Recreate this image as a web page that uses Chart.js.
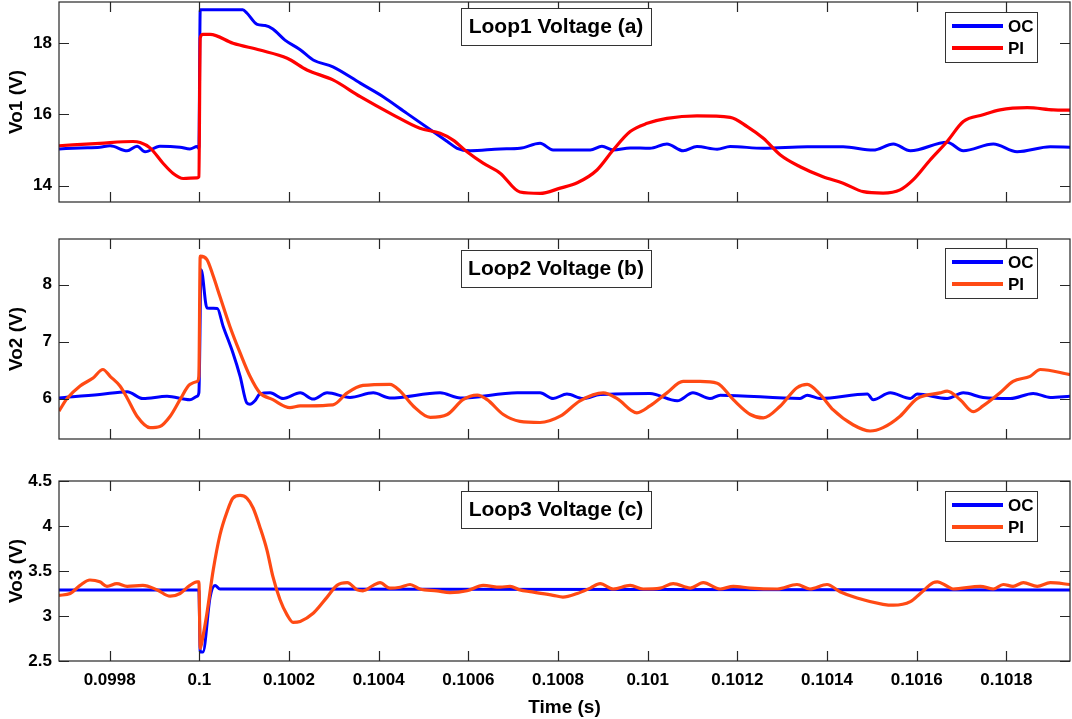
<!DOCTYPE html>
<html>
<head>
<meta charset="utf-8">
<script src="https://cdn.jsdelivr.net/npm/chart.js@4.4.1/dist/chart.umd.min.js"></script>
<style>
  body { margin: 0; background: #fff; width: 1072px; height: 719px; overflow: hidden; position: relative; }
  .panel { position: absolute; left: 0; width: 1072px; }
</style>
</head>
<body>
<div class="panel" style="top:0;height:215px"><canvas id="loop1" width="1072" height="215"></canvas></div>
<div class="panel" style="top:229px;height:221px"><canvas id="loop2" width="1072" height="221"></canvas></div>
<div class="panel" style="top:465px;height:254px"><canvas id="loop3" width="1072" height="254"></canvas></div>
<script>
// time axis (s)
const timeMin = 0.099687;
const timeMax = 0.101942;
const timeTicks = [0.0998, 0.1, 0.1002, 0.1004, 0.1006, 0.1008, 0.101, 0.1012, 0.1014, 0.1016, 0.1018];
const timeTickLabels = ["0.0998", "0.1", "0.1002", "0.1004", "0.1006", "0.1008", "0.101", "0.1012", "0.1014", "0.1016", "0.1018"];

// Loop1 voltage
const vo1Ticks = [14, 16, 18];
const vo1OcTime = [0.099687, 0.099734, 0.099778, 0.099801, 0.099839, 0.099861, 0.099879, 0.099912, 0.099957, 0.099979, 0.099995, 0.099999,
  0.100002, 0.100097, 0.100106, 0.100129, 0.100147, 0.100164, 0.100191, 0.100225, 0.100254, 0.100298, 0.100359, 0.10041, 0.100463,
  0.100521, 0.100553, 0.100575, 0.100604, 0.100671, 0.100715, 0.10076, 0.100789, 0.100872, 0.100898, 0.100923, 0.100961, 0.101005,
  0.101043, 0.101079, 0.10111, 0.101155, 0.101184, 0.101258, 0.101356, 0.101436, 0.101503, 0.101548, 0.101586, 0.101668, 0.101704,
  0.101771, 0.101824, 0.101898, 0.101942];
const vo1OcValues = [15.03, 15.06, 15.08, 15.12, 14.98, 15.11, 14.95, 15.11, 15.08, 15.03, 15.1, 15.05,
  18.94, 18.94, 18.85, 18.53, 18.5, 18.4, 18.09, 17.82, 17.53, 17.34, 16.88, 16.5, 16.03,
  15.52, 15.24, 15.05, 14.98, 15.03, 15.05, 15.19, 15.0, 15.0, 15.11, 15.0, 15.06, 15.05,
  15.17, 14.98, 15.1, 15.02, 15.1, 15.05, 15.09, 15.09, 15.0, 15.17, 14.98, 15.22, 14.98,
  15.17, 14.95, 15.09, 15.08];
const vo1PiTime = [0.099687, 0.099778, 0.099852, 0.099868, 0.09989, 0.099919, 0.099941, 0.099964, 0.099995, 0.099999,
  0.100002, 0.100008, 0.100024, 0.100075, 0.100135, 0.100196, 0.10024, 0.100298, 0.100359, 0.100432, 0.100492, 0.100537,
  0.100566, 0.100597, 0.100633, 0.100671, 0.100715, 0.10076, 0.100805, 0.100843, 0.100887, 0.100923, 0.100961, 0.100999,
  0.101043, 0.10111, 0.101184, 0.101222, 0.101258, 0.101296, 0.10134, 0.101391, 0.101436, 0.101481, 0.101525, 0.101563,
  0.101592, 0.10163, 0.101668, 0.101704, 0.101748, 0.101786, 0.101847, 0.101905, 0.101942];
const vo1PiValues = [15.12, 15.19, 15.24, 15.21, 15.06, 14.63, 14.35, 14.2, 14.22, 14.25,
  18.15, 18.25, 18.25, 18.0, 17.81, 17.58, 17.25, 16.97, 16.5, 15.99, 15.61, 15.47,
  15.28, 14.95, 14.63, 14.35, 13.82, 13.78, 13.93, 14.08, 14.44, 15.0, 15.52, 15.75,
  15.89, 15.96, 15.92, 15.66, 15.33, 14.86, 14.53, 14.25, 14.07, 13.83, 13.79, 13.88,
  14.16, 14.72, 15.24, 15.8, 15.99, 16.13, 16.19, 16.13, 16.12];

// Loop2 voltage
const vo2Ticks = [6, 7, 8];
const vo2OcTime = [0.099687, 0.099778, 0.099839, 0.099874, 0.099928, 0.099979, 0.099995, 0.099999,
  0.100004, 0.100017, 0.10004, 0.100053, 0.100075, 0.100091, 0.100106, 0.100113, 0.100124, 0.100135, 0.100158, 0.100187,
  0.100225, 0.100254, 0.100285, 0.100336, 0.100388, 0.100425, 0.100537, 0.100582, 0.100709, 0.10076, 0.100789, 0.10082,
  0.100856, 0.100894, 0.101005, 0.101066, 0.101101, 0.101139, 0.101162, 0.10134, 0.101356, 0.101385, 0.10149, 0.101503,
  0.101541, 0.101586, 0.101601, 0.101668, 0.101704, 0.101748, 0.101809, 0.10186, 0.101898, 0.101942];
const vo2OcValues = [6.01, 6.07, 6.12, 6.0, 6.04, 5.98, 6.04, 6.1,
  8.26, 7.59, 7.58, 7.27, 6.8, 6.39, 5.92, 5.9, 5.96, 6.08, 6.1, 6.0,
  6.1, 5.99, 6.1, 6.02, 6.1, 6.01, 6.1, 6.01, 6.1, 6.1, 6.0, 6.08,
  6.0, 6.07, 6.09, 5.96, 6.1, 6.0, 6.06, 6.0, 6.06, 6.0, 6.08, 5.98,
  6.1, 6.0, 6.08, 6.0, 6.1, 6.02, 6.0, 6.09, 6.02, 6.04];
const vo2PiTime = [0.099687, 0.099705, 0.099734, 0.099763, 0.099785, 0.099801, 0.099823, 0.099839, 0.099861, 0.09989,
  0.099912, 0.099935, 0.099957, 0.099979, 0.099995, 0.099999, 0.100002, 0.100017, 0.100031, 0.100046, 0.100068, 0.100091,
  0.100113, 0.100135, 0.100164, 0.100202, 0.100225, 0.100298, 0.10033, 0.100365, 0.100425, 0.100448, 0.100477, 0.100515,
  0.100553, 0.100588, 0.10062, 0.100642, 0.100678, 0.100715, 0.10076, 0.100805, 0.100849, 0.100901, 0.100932, 0.100976,
  0.101005, 0.101043, 0.101079, 0.101117, 0.101155, 0.101191, 0.101229, 0.101258, 0.101296, 0.101333, 0.101356, 0.101385,
  0.101414, 0.101458, 0.101496, 0.101525, 0.101563, 0.101601, 0.101652, 0.101668, 0.101697, 0.101726, 0.101748, 0.101786,
  0.101815, 0.101853, 0.101876, 0.101942];
const vo2PiValues = [5.78, 6.0, 6.22, 6.36, 6.51, 6.39, 6.22, 6.01, 5.69, 5.49,
  5.51, 5.69, 5.98, 6.25, 6.3, 6.39, 8.5, 8.44, 8.15, 7.79, 7.27, 6.8,
  6.39, 6.1, 5.98, 5.84, 5.87, 5.89, 6.1, 6.23, 6.25, 6.13, 5.87, 5.67,
  5.72, 5.98, 6.06, 5.98, 5.72, 5.6, 5.58, 5.69, 5.96, 6.1, 6.0, 5.75,
  5.87, 6.1, 6.3, 6.3, 6.27, 5.98, 5.72, 5.66, 5.87, 6.19, 6.25, 6.07,
  5.8, 5.54, 5.43, 5.49, 5.69, 6.0, 6.1, 6.13, 5.98, 5.77, 5.87, 6.1,
  6.3, 6.39, 6.51, 6.42];

// Loop3 voltage
const vo3Ticks = [2.5, 3, 3.5, 4, 4.5];
const vo3TickLabels = ["2.5", "3", "3.5", "4", "4.5"];
const vo3OcTime = [0.099687, 0.099999, 0.100002, 0.100008, 0.100024, 0.100035, 0.100046, 0.101942];
const vo3OcValues = [3.29, 3.29, 2.6, 2.6, 3.21, 3.34, 3.3, 3.29];
const vo3PiTime = [0.099687, 0.099712, 0.099734, 0.099756, 0.099778, 0.099794, 0.099816, 0.099839, 0.099874, 0.099906,
  0.099935, 0.099957, 0.099979, 0.099995, 0.099999, 0.100002, 0.100008, 0.100017, 0.100031, 0.100046, 0.100062, 0.100075,
  0.100091, 0.100106, 0.10012, 0.100135, 0.100151, 0.100164, 0.10018, 0.100196, 0.100209, 0.100225, 0.100254, 0.100285,
  0.100307, 0.10033, 0.100352, 0.100365, 0.100388, 0.100403, 0.100425, 0.100448, 0.10047, 0.100492, 0.10053, 0.100559,
  0.100597, 0.100633, 0.100671, 0.100693, 0.100715, 0.100738, 0.100789, 0.100811, 0.100843, 0.100872, 0.100894, 0.100923,
  0.100961, 0.10099, 0.101028, 0.101057, 0.101095, 0.101124, 0.101162, 0.101191, 0.101229, 0.101289, 0.101333, 0.101362,
  0.1014, 0.101429, 0.101467, 0.101525, 0.101548, 0.101586, 0.101608, 0.101637, 0.101646, 0.101668, 0.101681, 0.101742,
  0.101771, 0.101793, 0.101815, 0.101838, 0.101869, 0.101898, 0.101942];
const vo3PiValues = [3.23, 3.25, 3.34, 3.4, 3.38, 3.33, 3.36, 3.33, 3.34, 3.29,
  3.22, 3.25, 3.34, 3.38, 3.38, 2.64, 2.77, 3.03, 3.51, 3.9, 4.16, 4.31,
  4.34, 4.31, 4.2, 3.99, 3.73, 3.44, 3.18, 3.01, 2.93, 2.94, 3.03, 3.21,
  3.34, 3.37, 3.29, 3.28, 3.34, 3.37, 3.31, 3.32, 3.35, 3.3, 3.28, 3.26,
  3.28, 3.34, 3.32, 3.33, 3.29, 3.27, 3.23, 3.21, 3.25, 3.31, 3.36, 3.3,
  3.34, 3.3, 3.31, 3.36, 3.31, 3.37, 3.3, 3.33, 3.31, 3.3, 3.35, 3.3,
  3.35, 3.27, 3.2, 3.13, 3.12, 3.16, 3.25, 3.37, 3.38, 3.33, 3.3, 3.33,
  3.3, 3.35, 3.33, 3.37, 3.33, 3.37, 3.35];

const OC_BLUE = "#0000ff";
const PI_RED = "#ff0000";
const PI_ORANGE = "#ff4a14";
const FONT = "'Liberation Sans', Arial, sans-serif";

function points(times, values) {
    return times.map((t, i) => ({ x: t, y: values[i] }));
}

// MATLAB-like box: frame, inner ticks, title box and legend
const matlabFrame = {
    id: "matlabFrame",
    afterDatasetsDraw(chart, args, opts) {
        const { ctx, chartArea: a, scales: { x, y } } = chart;
        ctx.save();
        ctx.strokeStyle = "#262626";
        ctx.lineWidth = 1.2;
        ctx.beginPath();
        x.ticks.forEach(t => {
            const px = Math.round(x.getPixelForValue(t.value)) + 0.5;
            ctx.moveTo(px, a.bottom); ctx.lineTo(px, a.bottom - 10);
            ctx.moveTo(px, a.top); ctx.lineTo(px, a.top + 10);
        });
        y.ticks.forEach(t => {
            const py = Math.round(y.getPixelForValue(t.value)) + 0.5;
            ctx.moveTo(a.left, py); ctx.lineTo(a.left + 10, py);
            ctx.moveTo(a.right, py); ctx.lineTo(a.right - 10, py);
        });
        ctx.stroke();
        ctx.strokeRect(a.left, a.top, a.right - a.left, a.bottom - a.top);

        // title box
        const bx = 461, bw = 190, bh = 37, by = a.top + opts.titleTop;
        ctx.fillStyle = "#fff";
        ctx.fillRect(bx, by, bw, bh);
        ctx.strokeStyle = "#333";
        ctx.lineWidth = 1;
        ctx.strokeRect(bx + 0.5, by + 0.5, bw, bh);
        ctx.fillStyle = "#000";
        ctx.font = "bold 21px " + FONT;
        ctx.textAlign = "center";
        ctx.textBaseline = "middle";
        ctx.fillText(opts.title, bx + bw / 2, by + bh / 2 + 1);

        // legend
        const lx = 945, lw = 92, lh = 50, ly = a.top + opts.legendTop;
        ctx.fillStyle = "#fff";
        ctx.fillRect(lx, ly, lw, lh);
        ctx.strokeRect(lx + 0.5, ly + 0.5, lw, lh);
        ctx.font = "bold 17px " + FONT;
        ctx.textAlign = "left";
        chart.data.datasets.forEach((ds, i) => {
            const ry = ly + 14 + i * 22;
            ctx.strokeStyle = ds.borderColor;
            ctx.lineWidth = 4;
            ctx.beginPath();
            ctx.moveTo(lx + 7, ry); ctx.lineTo(lx + 58, ry);
            ctx.stroke();
            ctx.fillStyle = "#000";
            ctx.fillText(ds.label, lx + 63, ry + 1);
        });
        ctx.restore();
    }
};

function makePanel(id, cfg) {
    new Chart(document.getElementById(id), {
        type: "line",
        data: {
            datasets: [
                { label: "OC", data: points(cfg.ocTime, cfg.ocValues), borderColor: OC_BLUE, borderWidth: 3, order: 1 },
                { label: "PI", data: points(cfg.piTime, cfg.piValues), borderColor: cfg.piColor, borderWidth: 3.2, order: 0 }
            ]
        },
        options: {
            responsive: false,
            animation: false,
            devicePixelRatio: 1,
            layout: { padding: { top: cfg.padTop, right: 2, left: 0, bottom: 0 } },
            elements: { point: { radius: 0 }, line: { cubicInterpolationMode: "monotone" } },
            plugins: {
                legend: { display: false },
                tooltip: { enabled: false },
                matlabFrame: { title: cfg.title, titleTop: cfg.titleTop, legendTop: cfg.legendTop }
            },
            scales: {
                x: {
                    type: "linear",
                    min: timeMin,
                    max: timeMax,
                    afterBuildTicks: s => { s.ticks = timeTicks.map(v => ({ value: v })); },
                    afterFit: s => { s.height = cfg.xHeight; s.paddingLeft = 0; s.paddingRight = 0; },
                    grid: { display: false, drawTicks: false },
                    border: { display: false },
                    ticks: {
                        display: cfg.showTime,
                        autoSkip: false,
                        maxRotation: 0,
                        padding: 9,
                        color: "#000",
                        font: { family: FONT, size: 17, weight: "bold" },
                        callback: (v, i) => timeTickLabels[i]
                    },
                    title: {
                        display: cfg.showTime,
                        text: "Time (s)",
                        color: "#000",
                        padding: { top: 2, bottom: 0 },
                        font: { family: FONT, size: 19, weight: "bold" }
                    }
                },
                y: {
                    min: cfg.yMin,
                    max: cfg.yMax,
                    afterBuildTicks: s => { s.ticks = cfg.yTicks.map(v => ({ value: v })); },
                    afterFit: s => { s.width = 59; s.paddingTop = 0; s.paddingBottom = 0; },
                    grid: { display: false, drawTicks: false },
                    border: { display: false },
                    ticks: {
                        padding: 7,
                        color: "#000",
                        font: { family: FONT, size: 17, weight: "bold" },
                        callback: (v, i) => cfg.yLabels[i]
                    },
                    title: {
                        display: true,
                        text: cfg.yTitle,
                        color: "#000",
                        padding: { top: 5, bottom: 0 },
                        font: { family: FONT, size: 19, weight: "bold" }
                    }
                }
            }
        },
        plugins: [matlabFrame]
    });
}

makePanel("loop1", {
    ocTime: vo1OcTime, ocValues: vo1OcValues, piTime: vo1PiTime, piValues: vo1PiValues, piColor: PI_RED,
    yMin: 13.54, yMax: 19.16, yTicks: vo1Ticks, yLabels: vo1Ticks.map(String), yTitle: "Vo1 (V)",
    title: "Loop1 Voltage (a)", titleTop: 6, legendTop: 10, padTop: 2, xHeight: 13, showTime: false
});
makePanel("loop2", {
    ocTime: vo2OcTime, ocValues: vo2OcValues, piTime: vo2PiTime, piValues: vo2PiValues, piColor: PI_ORANGE,
    yMin: 5.29, yMax: 8.8, yTicks: vo2Ticks, yLabels: vo2Ticks.map(String), yTitle: "Vo2 (V)",
    title: "Loop2 Voltage (b)", titleTop: 11, legendTop: 9, padTop: 10, xHeight: 11, showTime: false
});
makePanel("loop3", {
    ocTime: vo3OcTime, ocValues: vo3OcValues, piTime: vo3PiTime, piValues: vo3PiValues, piColor: PI_ORANGE,
    yMin: 2.5, yMax: 4.5, yTicks: vo3Ticks, yLabels: vo3TickLabels, yTitle: "Vo3 (V)",
    title: "Loop3 Voltage (c)", titleTop: 10, legendTop: 10, padTop: 16, xHeight: 58, showTime: true
});
</script>
</body>
</html>
